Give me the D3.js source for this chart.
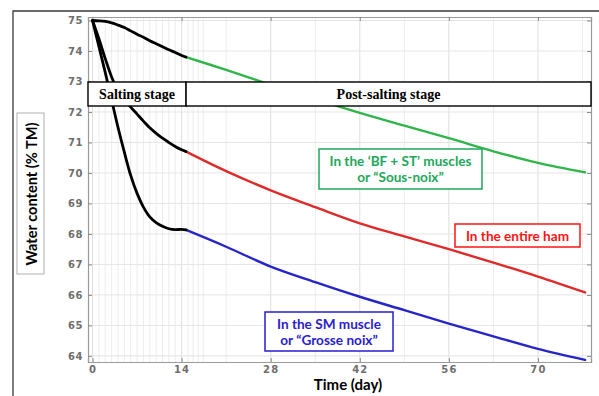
<!DOCTYPE html>
<html>
<head>
<meta charset="utf-8">
<script src="https://cdn.jsdelivr.net/npm/d3@7"></script>
<style>
  body { margin: 0; background: #fff; }
  svg { display: block; }
</style>
</head>
<body>
<svg id="chart" width="599" height="396"></svg>
<script>
// Water content (% of total mass) during salting and post-salting
const saltDays = [0, 1, 2, 3, 4, 5, 6, 7, 8, 9, 10, 11, 12, 13, 14, 14.7];
const saltBFST = [75, 74.99, 74.97, 74.92, 74.85, 74.77, 74.66, 74.55, 74.45, 74.34, 74.24, 74.14, 74.04, 73.95, 73.85, 73.80];
const saltHam  = [75, 74.4, 73.75, 73.15, 72.7, 72.4, 72.16, 71.93, 71.7, 71.48, 71.3, 71.14, 71.0, 70.87, 70.76, 70.7];
const saltSM   = [75, 74.15, 73.3, 72.4, 71.5, 70.68, 69.92, 69.33, 68.88, 68.56, 68.37, 68.25, 68.17, 68.14, 68.15, 68.13];

const postDays = [14.7, 21, 28, 35, 42, 49, 56, 63, 70, 77.4];
const postBFST = [73.80, 73.38, 72.89, 72.42, 71.97, 71.55, 71.14, 70.71, 70.33, 70.02];
const postHam  = [70.7, 70.06, 69.43, 68.88, 68.35, 67.92, 67.5, 67.06, 66.6, 66.08];
const postSM   = [68.13, 67.58, 66.93, 66.42, 65.94, 65.5, 65.06, 64.64, 64.23, 63.87];

const xTicks = [0, 14, 28, 42, 56, 70];
const yTicks = [64, 65, 66, 67, 68, 69, 70, 71, 72, 73, 74, 75];
const gridDays = [0, 1, 2, 3, 4, 5, 6, 7, 8, 9, 10, 11, 12, 13, 14, 15, 15.8, 16.6, 17.4, 21, 28, 35, 42, 49, 56, 63, 70, 77];
const saltingEnd = 14.7;

const stageLabels = ["Salting stage", "Post-salting stage"];
const seriesNames = ["In the \u2018BF + ST\u2019 muscles", "or \u201cSous-noix\u201d"];
const hamName = ["In the entire ham"];
const smNames = ["In the SM muscle", "or \u201cGrosse noix\u201d"];
const xTitle = "Time (day)";
const yTitle = "Water content  (% TM)";

const colors = { green: "#2fb54a", greenText: "#1ea85a", red: "#e02a2a", redText: "#ff1414", blue: "#2626c8", blueText: "#2a1ccf" };

const svg = d3.select("#chart");
const plot = { left: 88, top: 17, right: 591, bottom: 362 };

const x = d3.scaleLinear().domain([-0.71, 78.33]).range([plot.left, plot.right]);
const y = d3.scaleLinear().domain([63.80, 75.115]).range([plot.bottom, plot.top]);

// outer frame (top and left edges)
svg.append("path")
  .attr("d", "M13,396V11H599")
  .attr("fill", "none").attr("stroke", "#3a3a3a").attr("stroke-width", 1.3);

// grid
const grid = svg.append("g");
grid.selectAll("line.v").data(gridDays).join("line")
  .attr("x1", d => x(d)).attr("x2", d => x(d))
  .attr("y1", plot.top).attr("y2", plot.bottom)
  .attr("stroke", d => (d % 14 === 0) ? "#dedede" : "#ececec").attr("stroke-width", 1);
grid.selectAll("line.h").data(yTicks).join("line")
  .attr("x1", plot.left).attr("x2", plot.right)
  .attr("y1", d => y(d)).attr("y2", d => y(d))
  .attr("stroke", "#e4e4e4").attr("stroke-width", 1);

// axes (inward ticks on all four sides)
const tickFont = "DejaVu Sans, sans-serif";
const axL = svg.append("g").attr("transform", `translate(${plot.left},0)`)
  .call(d3.axisLeft(y).tickValues(yTicks).tickSize(-4).tickPadding(5).tickFormat(d3.format("d")));
const axB = svg.append("g").attr("transform", `translate(0,${plot.bottom})`)
  .call(d3.axisBottom(x).tickValues(xTicks).tickSize(-4).tickPadding(4).tickFormat(d3.format("d")));
const axR = svg.append("g").attr("transform", `translate(${plot.right},0)`)
  .call(d3.axisRight(y).tickValues(yTicks).tickSize(-4).tickFormat(""));
const axT = svg.append("g").attr("transform", `translate(0,${plot.top})`)
  .call(d3.axisTop(x).tickValues(xTicks).tickSize(-4).tickFormat(""));
[axL, axB, axR, axT].forEach(a => {
  a.select(".domain").attr("stroke", "#9a9a9a").attr("stroke-width", 1.2);
  a.selectAll(".tick line").attr("stroke", "#8a8a8a");
  a.selectAll("text").attr("fill", "#6e6e6e").attr("font-family", tickFont)
    .attr("font-weight", "bold").attr("font-size", 10);
});
axB.selectAll("text").attr("letter-spacing", 1.2);
axL.selectAll("text").attr("letter-spacing", 0.6);

// curves
const line = d3.line().x(d => x(d[0])).y(d => y(d[1])).curve(d3.curveCatmullRom.alpha(0.5));
const pair = (days, vals) => days.map((d, i) => [d, vals[i]]);

const curves = svg.append("g").attr("fill", "none").attr("stroke-linecap", "round");
curves.append("path").attr("d", line(pair(postDays, postBFST))).attr("stroke", colors.green).attr("stroke-width", 2.4);
curves.append("path").attr("d", line(pair(postDays, postHam))).attr("stroke", colors.red).attr("stroke-width", 2.4);
curves.append("path").attr("d", line(pair(postDays, postSM))).attr("stroke", colors.blue).attr("stroke-width", 2.4);
[saltBFST, saltHam, saltSM].forEach(vals => {
  curves.append("path").attr("d", line(pair(saltDays, vals))).attr("stroke", "#000").attr("stroke-width", 2.8);
});

// stage banner
const bannerTop = 82, bannerBottom = 106;
const banner = svg.append("g");
banner.append("rect").attr("x", plot.left).attr("y", bannerTop)
  .attr("width", x(saltingEnd) - plot.left).attr("height", bannerBottom - bannerTop)
  .attr("fill", "#fff").attr("stroke", "#000").attr("stroke-width", 1.4);
banner.append("rect").attr("x", x(saltingEnd)).attr("y", bannerTop)
  .attr("width", plot.right - x(saltingEnd)).attr("height", bannerBottom - bannerTop)
  .attr("fill", "#fff").attr("stroke", "#000").attr("stroke-width", 1.4);
banner.selectAll("text").data([
  { t: stageLabels[0], cx: (plot.left + x(saltingEnd)) / 2 },
  { t: stageLabels[1], cx: (x(saltingEnd) + plot.right) / 2 }
]).join("text")
  .attr("x", d => d.cx).attr("y", 99)
  .attr("text-anchor", "middle")
  .attr("font-family", "Liberation Serif, Times New Roman, serif")
  .attr("font-weight", "bold").attr("font-size", 14).attr("fill", "#000")
  .text(d => d.t);

// series annotations
function note(x0, y0, w, h, lines, stroke, fill, baselines) {
  const g = svg.append("g");
  g.append("rect").attr("x", x0).attr("y", y0).attr("width", w).attr("height", h)
    .attr("fill", "#fff").attr("stroke", stroke).attr("stroke-width", 1.5);
  lines.forEach((t, i) => {
    g.append("text").attr("x", x0 + w / 2).attr("y", baselines[i])
      .attr("text-anchor", "middle").attr("font-family", "Lato, Open Sans, sans-serif")
      .attr("font-weight", "bold").attr("font-size", 13.6).attr("fill", fill).text(t);
  });
}
note(319, 149, 163, 40, seriesNames, colors.greenText, colors.greenText, [166, 182]);
note(455, 224, 125, 23, hamName, colors.redText, colors.redText, [240.5]);
note(265, 312, 128, 39, smNames, colors.blueText, colors.blueText, [329, 345]);

// axis titles
svg.append("text").attr("x", 348).attr("y", 390).attr("text-anchor", "middle")
  .attr("font-family", "Lato, Open Sans, sans-serif").attr("font-weight", "bold")
  .attr("font-size", 15).attr("fill", "#000").text(xTitle);

svg.append("rect").attr("x", 17).attr("y", 113).attr("width", 27).attr("height", 161)
  .attr("fill", "#fff").attr("stroke", "#b0b0b0").attr("stroke-width", 1);
svg.append("text").attr("transform", "translate(31,194) rotate(-90)")
  .attr("text-anchor", "middle").attr("dominant-baseline", "central")
  .attr("font-family", "Lato, Open Sans, sans-serif").attr("font-weight", "bold")
  .attr("font-size", 14.6).attr("fill", "#000").text(yTitle);
</script>
</body>
</html>
